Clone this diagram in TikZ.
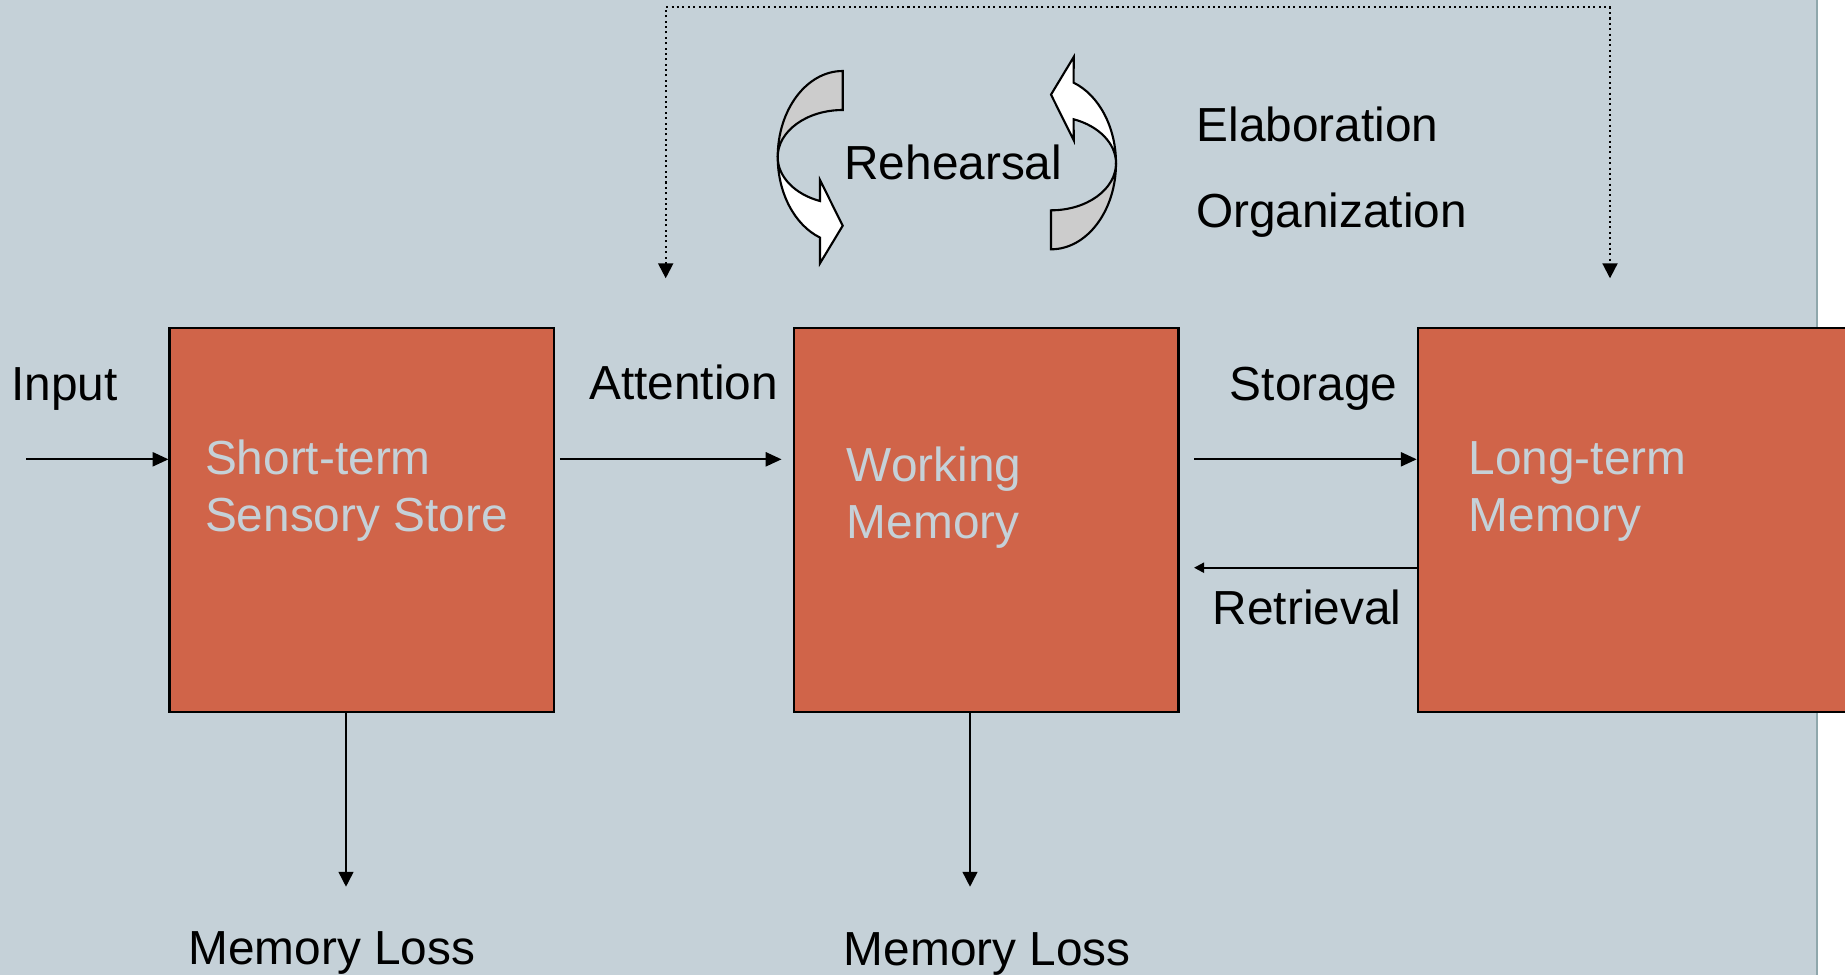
\documentclass[tikz,border=0pt]{standalone}
\usepackage{fontspec}
\setmainfont{Liberation Sans}
\usetikzlibrary{calc,arrows.meta}
\definecolor{panel}{HTML}{C5D1D8}
\definecolor{brick}{HTML}{D06449}
\definecolor{rim}{HTML}{8FA7AC}
\definecolor{backface}{HTML}{CCCCCC}
\newcommand{\slidefont}{\fontsize{27.2}{32.3}\selectfont}
\def\loopy[#1](#2){%
\begin{scope}[shift={(#2)},rotate=#1,line width=1.2pt]
\draw[fill=backface] (0,-86) arc[start angle=270,end angle=180,x radius=65,y radius=86] arc[start angle=180,end angle=270,x radius=65,y radius=47] -- cycle;
\draw[fill=white] (-65,0) arc[start angle=180,end angle=110.4,x radius=65,y radius=86] -- (-22.7,106.3) -- (0,68.7) -- (-22.7,23) -- (-22.66,44.05) arc[start angle=110.4,end angle=180,x radius=65,y radius=47] -- cycle;
\end{scope}}

\begin{document}
\begin{tikzpicture}[x=0.02cm,y=-0.02cm,
	box/.style={draw=black,line width=1.2pt,fill=brick,inner sep=0pt,minimum height=7.686cm},
	lbl/.style={anchor=base west,inner sep=0pt,font=\slidefont},
	inbox/.style={anchor=north west,inner sep=0pt,align=left,text=panel,font=\slidefont},
	flow/.style={line width=1.15pt,-{Triangle[length=9pt,width=8pt]}},
	back/.style={line width=1.15pt,-{Triangle[length=5.7pt,width=5.7pt]}},
	loss/.style={line width=0.9pt,-{Triangle[length=8.5pt,width=8.5pt]}},
	dotline/.style={line width=1.15pt,dash pattern=on 1.15pt off 1.9pt,{Triangle[length=8.5pt,width=8.5pt]}-{Triangle[length=8.5pt,width=8.5pt]}}]
	%%%%% START %%%%%
	\def\W{1845}
	\def\H{975}
	\def\rimx{1815.7}
	\def\boxw{7.69cm}
	\def\boxy{519.9}
	\useasboundingbox (0,0) rectangle (\W,\H);
	\clip (0,0) rectangle (\W,\H);
	\fill[white] (0,0) rectangle (\W,\H);
	\fill[panel] (0,0) rectangle (\rimx,\H);
	\fill[rim] (\rimx,0) rectangle (\rimx+1.8,\H);

	% stores
	\node[box,minimum width=\boxw] (stss) at (361.75,\boxy) {};
	\node[box,minimum width=\boxw] (wm) at (986.3,\boxy) {};
	\node[box,minimum width=9.64cm] (ltm) at (1658.7,\boxy) {};
	\node[inbox] (stsstext) at (204.7,440) {Short-term\\Sensory Store};
	\node[inbox] (wmtext) at (846.5,447) {Working\\Memory};
	\node[inbox] (ltmtext) at (1468.3,441.5) {Long-term\\Memory};

	% labels
	\node[lbl] (input) at (11,400) {Input};
	\node[lbl] (attention) at (589,399.3) {Attention};
	\node[lbl] (storage) at (1229.5,400) {Storage};
	\node[lbl] (retrieval) at (1212.5,624) {Retrieval};
	\node[lbl] (lossone) at (188,964) {Memory Loss};
	\node[lbl] (losstwo) at (843.5,965.3) {Memory Loss};
	\node[lbl] (rehearsal) at (844,179.3) {Rehearsal};
	\node[lbl] (elab) at (1196.3,141.7) {Elaboration};
	\node[lbl] (org) at (1195.7,227.7) {Organization};

	% connectors
	\coordinate (in) at (26,459.3);
	\coordinate (att) at (559.8,459.3);
	\coordinate (sto) at (1194,459.3);
	\coordinate (ret) at (1194,567.7);
	\coordinate (lossa) at (346,886.7);
	\coordinate (lossb) at (970,886.7);
	\coordinate (dotl) at (665.7,278.3);
	\coordinate (dotr) at (1610,278.3);
	\coordinate (dottop) at (1137.85,7.3);
	\draw[flow] (in) -- (in -| stss.west);
	\draw[flow] (att) -- ($(att -| wm.west)+(-11.5,0)$);
	\draw[flow] (sto) -- (sto -| ltm.west);
	\draw[back] (ret -| ltm.west) -- (ret);
	\draw[loss] (lossa |- stss.south) -- (lossa);
	\draw[loss] (lossb |- wm.south) -- (lossb);
	\draw[dotline] (dotl) |- (dottop) -| (dotr);

	% rehearsal loop
	\loopy[0](842.7,157)
	\loopy[180](1051,163.3)
	%%%%% END %%%%%
\end{tikzpicture}
\end{document}
